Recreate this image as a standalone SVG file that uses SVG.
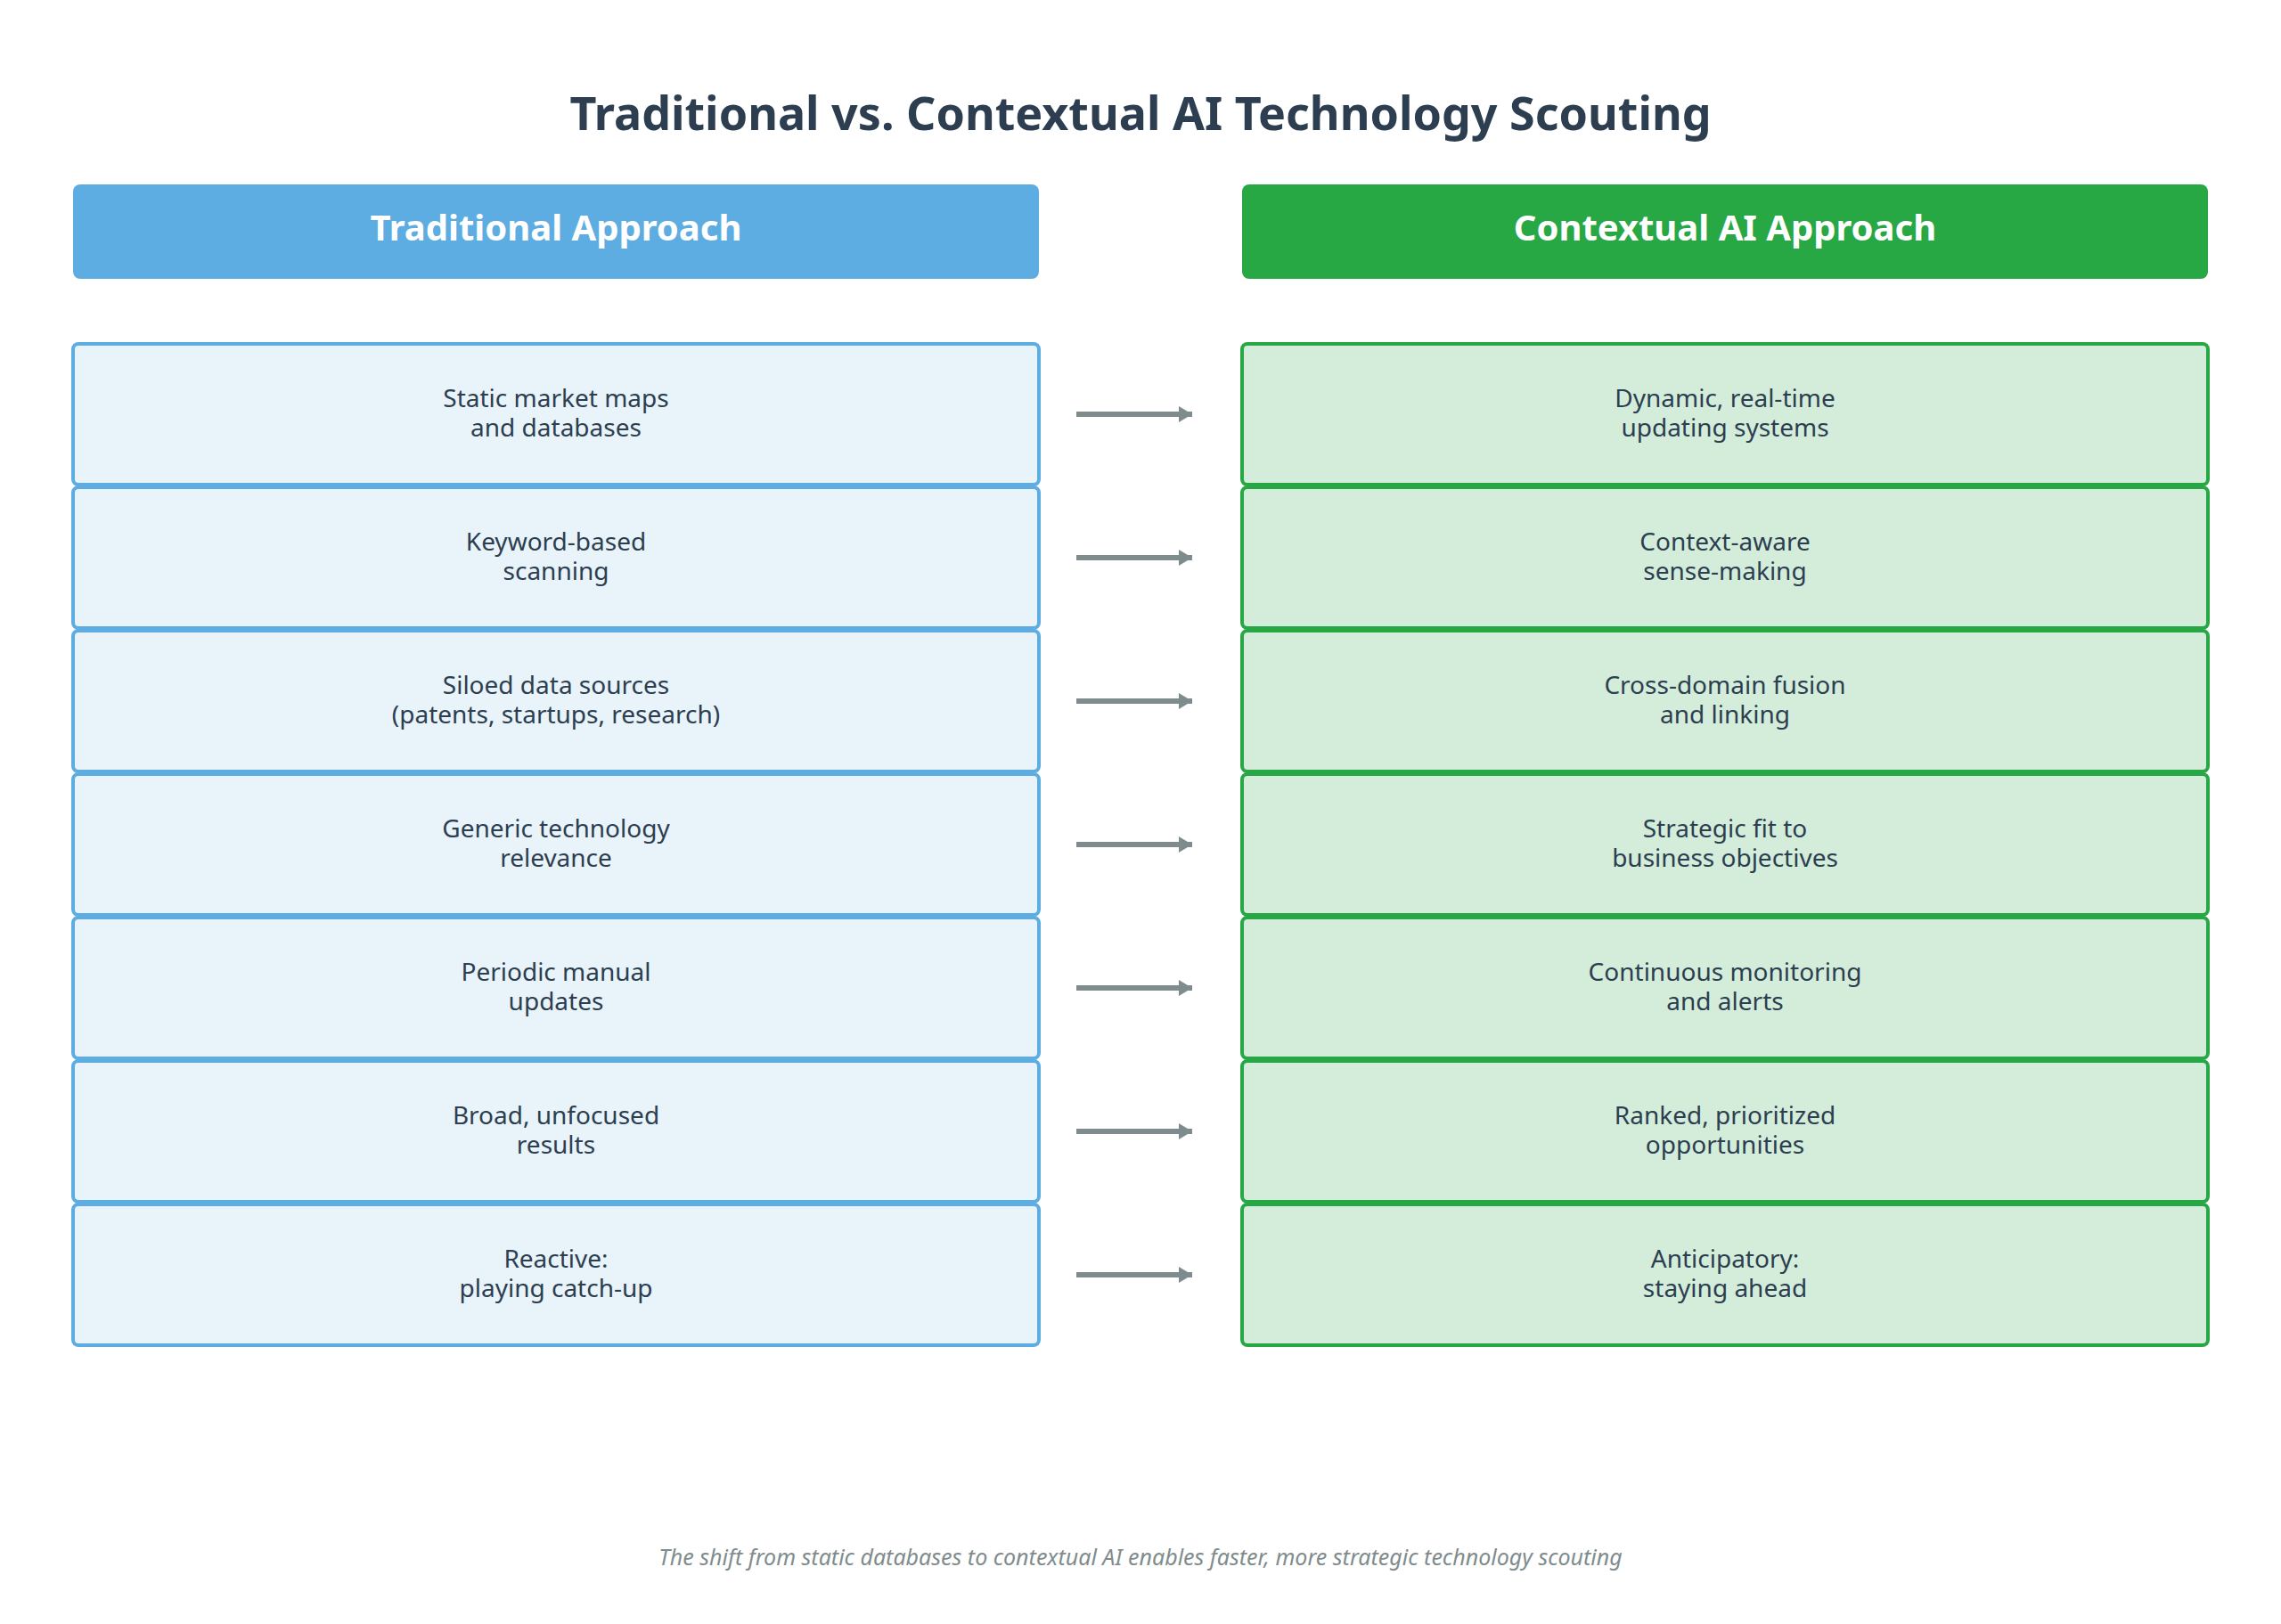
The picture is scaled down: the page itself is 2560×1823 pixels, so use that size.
<svg xmlns="http://www.w3.org/2000/svg" width="2560" height="1823" viewBox="0 0 2560 1823">
<style>
text{font-family:"Noto Sans","Open Sans",sans-serif;text-anchor:middle}
.title{font-size:52px;font-weight:bold;fill:#2C3E50}
.hd{font-size:40px;font-weight:bold;fill:#fff}
.t{font-size:28px;fill:#2C3E50}
.l{fill:#E8F4FA;stroke:#5DADE2;stroke-width:4}
.r{fill:#D4EDDA;stroke:#28A745;stroke-width:4}
.arr{stroke:#7F8C8D;stroke-width:6;fill:none;marker-end:url(#ah)}
.foot{font-size:25px;font-style:italic;fill:#7F8C8D}
</style>
<defs><marker id="ah" markerWidth="4" markerHeight="4" refX="2.5" refY="2" orient="auto" markerUnits="strokeWidth"><path d="M0,0.5 L2.5,2 L0,3.5 Z" fill="#7F8C8D"/></marker></defs>
<rect width="2560" height="1823" fill="#fff"/>
<text class="title" x="1280" y="146">Traditional vs. Contextual AI Technology Scouting</text>
<g id="hdrL"><rect x="82" y="207" width="1084" height="106" rx="8" fill="#5DADE2"/><text class="hd" x="624" y="270">Traditional Approach</text></g>
<g id="hdrR"><rect x="1394" y="207" width="1084" height="106" rx="8" fill="#28A745"/><text class="hd" x="1936" y="270">Contextual AI Approach</text></g>
<g id="L1"><rect class="l" x="82" y="386" width="1084" height="158" rx="6"/><text class="t" x="624" y="457">Static market maps</text><text class="t" x="624" y="490">and databases</text></g>
<g id="L2"><rect class="l" x="82" y="547" width="1084" height="158" rx="6"/><text class="t" x="624" y="618">Keyword-based</text><text class="t" x="624" y="651">scanning</text></g>
<g id="L3"><rect class="l" x="82" y="708" width="1084" height="158" rx="6"/><text class="t" x="624" y="779">Siloed data sources</text><text class="t" x="624" y="812">(patents, startups, research)</text></g>
<g id="L4"><rect class="l" x="82" y="869" width="1084" height="158" rx="6"/><text class="t" x="624" y="940">Generic technology</text><text class="t" x="624" y="973">relevance</text></g>
<g id="L5"><rect class="l" x="82" y="1030" width="1084" height="158" rx="6"/><text class="t" x="624" y="1101">Periodic manual</text><text class="t" x="624" y="1134">updates</text></g>
<g id="L6"><rect class="l" x="82" y="1191" width="1084" height="158" rx="6"/><text class="t" x="624" y="1262">Broad, unfocused</text><text class="t" x="624" y="1295">results</text></g>
<g id="L7"><rect class="l" x="82" y="1352" width="1084" height="158" rx="6"/><text class="t" x="624" y="1423">Reactive:</text><text class="t" x="624" y="1456">playing catch-up</text></g>
<g id="R1"><rect class="r" x="1394" y="386" width="1084" height="158" rx="6"/><text class="t" x="1936" y="457">Dynamic, real-time</text><text class="t" x="1936" y="490">updating systems</text></g>
<g id="R2"><rect class="r" x="1394" y="547" width="1084" height="158" rx="6"/><text class="t" x="1936" y="618">Context-aware</text><text class="t" x="1936" y="651">sense-making</text></g>
<g id="R3"><rect class="r" x="1394" y="708" width="1084" height="158" rx="6"/><text class="t" x="1936" y="779">Cross-domain fusion</text><text class="t" x="1936" y="812">and linking</text></g>
<g id="R4"><rect class="r" x="1394" y="869" width="1084" height="158" rx="6"/><text class="t" x="1936" y="940">Strategic fit to</text><text class="t" x="1936" y="973">business objectives</text></g>
<g id="R5"><rect class="r" x="1394" y="1030" width="1084" height="158" rx="6"/><text class="t" x="1936" y="1101">Continuous monitoring</text><text class="t" x="1936" y="1134">and alerts</text></g>
<g id="R6"><rect class="r" x="1394" y="1191" width="1084" height="158" rx="6"/><text class="t" x="1936" y="1262">Ranked, prioritized</text><text class="t" x="1936" y="1295">opportunities</text></g>
<g id="R7"><rect class="r" x="1394" y="1352" width="1084" height="158" rx="6"/><text class="t" x="1936" y="1423">Anticipatory:</text><text class="t" x="1936" y="1456">staying ahead</text></g>
<g id="connectors">
<line class="arr" x1="1208" y1="465" x2="1338" y2="465"/>
<line class="arr" x1="1208" y1="626" x2="1338" y2="626"/>
<line class="arr" x1="1208" y1="787" x2="1338" y2="787"/>
<line class="arr" x1="1208" y1="948" x2="1338" y2="948"/>
<line class="arr" x1="1208" y1="1109" x2="1338" y2="1109"/>
<line class="arr" x1="1208" y1="1270" x2="1338" y2="1270"/>
<line class="arr" x1="1208" y1="1431" x2="1338" y2="1431"/>
</g>
<text class="foot" x="1280" y="1757">The shift from static databases to contextual AI enables faster, more strategic technology scouting</text>
</svg>
